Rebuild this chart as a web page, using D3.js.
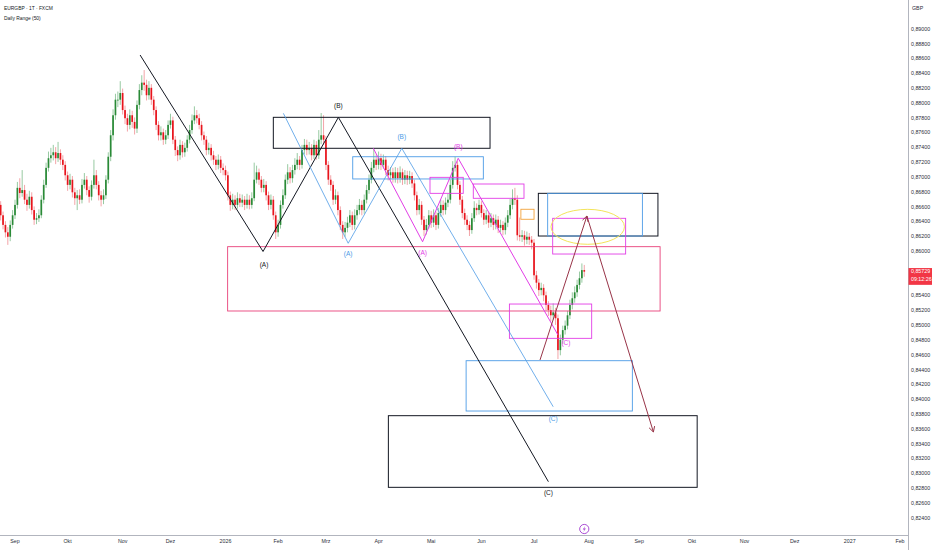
<!DOCTYPE html>
<html><head><meta charset="utf-8">
<script src="https://cdn.jsdelivr.net/npm/d3@7"></script>
<style>body{margin:0;background:#fff}svg{display:block}</style>
</head><body><svg id="c" width="932" height="550"></svg>
<script>
// ---------- DATA ----------
const firstBarDate = "2025-08-21";
const opens = [.8655,.8663,.8649,.8636,.8626,.8620,.8636,.8649,.8663,.8686,.8679,.8683,.8670,.8663,.8674,.8656,.8643,.8645,.8649,.8670,
.8690,.8713,.8726,.8730,.8734,.8726,.8733,.8724,.8717,.8703,.8690,.8697,.8680,.8672,.8676,.8670,.8690,.8697,.8683,.8674,
.8690,.8703,.8690,.8676,.8670,.8676,.8697,.8728,.8757,.8784,.8805,.8805,.8814,.8791,.8780,.8771,.8784,.8775,.8766,.8798,
.8818,.8828,.8825,.8811,.8821,.8805,.8791,.8771,.8757,.8761,.8751,.8757,.8771,.8777,.8751,.8737,.8730,.8744,.8734,.8740,
.8751,.8764,.8777,.8784,.8780,.8771,.8757,.8751,.8737,.8740,.8730,.8724,.8717,.8724,.8713,.8710,.8703,.8676,.8663,.8670,
.8663,.8672,.8666,.8670,.8663,.8670,.8663,.8672,.8697,.8707,.8697,.8686,.8690,.8676,.8663,.8670,.8649,.8626,.8636,.8663,
.8676,.8697,.8707,.8699,.8710,.8717,.8724,.8717,.8737,.8744,.8737,.8740,.8730,.8744,.8730,.8751,.8757,.8751,.8717,.8697,
.8690,.8670,.8676,.8656,.8636,.8626,.8632,.8639,.8649,.8636,.8649,.8656,.8663,.8656,.8670,.8683,.8697,.8713,.8724,.8717,
.8726,.8717,.8724,.8710,.8703,.8707,.8699,.8707,.8699,.8707,.8697,.8703,.8697,.8702,.8692,.8676,.8656,.8663,.8643,.8629,
.8636,.8649,.8639,.8649,.8636,.8652,.8663,.8656,.8666,.8670,.8690,.8713,.8717,.8690,.8670,.8652,.8643,.8636,.8629,.8645,
.8659,.8656,.8663,.8652,.8643,.8649,.8639,.8645,.8636,.8643,.8632,.8636,.8629,.8639,.8649,.8663,.8672,.8670,.8622,.8620,
.8622,.8616,.8620,.8616,.8612,.8568,.8558,.8548,.8551,.8541,.8528,.8521,.8514,.8518,.8510,.8467,.8481,.8494,.8500,.8514,
.8528,.8537,.8545,.8555,.8564,.8575];
const highs = [.8671,.8668,.8654,.8641,.8633,.8642,.8656,.8670,.8694,.8699,.8710,.8690,.8678,.8682,.8680,.8661,.8652,.8657,.8676,.8697,
.8720,.8735,.8740,.8744,.8741,.8748,.8738,.8730,.8722,.8708,.8705,.8702,.8686,.8683,.8684,.8698,.8706,.8702,.8688,.8696,
.8724,.8710,.8695,.8682,.8684,.8703,.8734,.8764,.8792,.8813,.8816,.8830,.8820,.8797,.8786,.8792,.8790,.8781,.8804,.8826,
.8838,.8845,.8832,.8830,.8826,.8810,.8796,.8776,.8769,.8766,.8764,.8777,.8786,.8782,.8756,.8742,.8751,.8749,.8747,.8757,
.8771,.8785,.8796,.8791,.8786,.8776,.8762,.8756,.8747,.8745,.8736,.8729,.8731,.8729,.8719,.8716,.8708,.8681,.8678,.8676,
.8680,.8678,.8677,.8675,.8678,.8676,.8680,.8720,.8716,.8712,.8702,.8698,.8695,.8681,.8677,.8675,.8654,.8643,.8669,.8684,
.8704,.8718,.8714,.8717,.8726,.8733,.8729,.8744,.8752,.8751,.8748,.8745,.8751,.8749,.8764,.8787,.8784,.8756,.8722,.8703,
.8695,.8684,.8681,.8661,.8641,.8640,.8647,.8656,.8654,.8657,.8663,.8671,.8669,.8677,.8690,.8704,.8721,.8738,.8731,.8735,
.8732,.8731,.8729,.8716,.8714,.8713,.8714,.8713,.8715,.8712,.8710,.8709,.8709,.8707,.8697,.8681,.8671,.8668,.8648,.8644,
.8656,.8655,.8657,.8654,.8659,.8670,.8669,.8673,.8678,.8697,.8722,.8728,.8722,.8695,.8675,.8658,.8649,.8641,.8652,.8668,
.8665,.8670,.8668,.8657,.8656,.8654,.8652,.8650,.8650,.8648,.8643,.8641,.8646,.8656,.8671,.8684,.8686,.8676,.8646,.8629,
.8628,.8627,.8625,.8621,.8617,.8574,.8563,.8558,.8556,.8546,.8533,.8527,.8530,.8524,.8515,.8488,.8500,.8507,.8520,.8535,
.8545,.8553,.8562,.8573,.8584,.8582];
const lows = [.8648,.8642,.8630,.8619,.8609,.8614,.8631,.8644,.8658,.8672,.8674,.8664,.8655,.8658,.8650,.8636,.8637,.8640,.8645,.8665,
.8686,.8708,.8720,.8723,.8718,.8721,.8717,.8710,.8696,.8682,.8684,.8673,.8663,.8656,.8664,.8665,.8685,.8676,.8666,.8669,
.8685,.8684,.8669,.8661,.8664,.8671,.8692,.8722,.8750,.8778,.8795,.8798,.8785,.8772,.8762,.8765,.8767,.8758,.8760,.8792,
.8811,.8817,.8804,.8805,.8798,.8784,.8764,.8750,.8750,.8744,.8745,.8752,.8766,.8745,.8729,.8722,.8724,.8727,.8728,.8735,
.8746,.8759,.8772,.8773,.8765,.8750,.8744,.8730,.8731,.8723,.8717,.8710,.8711,.8706,.8703,.8696,.8669,.8655,.8657,.8656,
.8658,.8660,.8660,.8656,.8658,.8657,.8658,.8668,.8692,.8690,.8680,.8680,.8669,.8656,.8657,.8643,.8617,.8620,.8631,.8658,
.8671,.8691,.8692,.8693,.8704,.8711,.8710,.8712,.8731,.8730,.8731,.8723,.8725,.8724,.8725,.8745,.8744,.8710,.8690,.8682,
.8663,.8664,.8649,.8629,.8617,.8620,.8626,.8633,.8629,.8630,.8643,.8650,.8649,.8651,.8665,.8678,.8692,.8707,.8710,.8711,
.8710,.8712,.8703,.8696,.8697,.8693,.8693,.8692,.8693,.8690,.8691,.8690,.8691,.8686,.8669,.8649,.8650,.8636,.8621,.8623,
.8631,.8632,.8633,.8629,.8631,.8647,.8649,.8650,.8660,.8665,.8685,.8708,.8684,.8663,.8645,.8636,.8629,.8621,.8624,.8640,
.8649,.8650,.8646,.8636,.8637,.8632,.8633,.8629,.8630,.8625,.8626,.8622,.8623,.8633,.8644,.8657,.8663,.8615,.8614,.8613,
.8608,.8610,.8609,.8603,.8562,.8550,.8540,.8541,.8533,.8520,.8513,.8506,.8508,.8501,.8455,.8460,.8475,.8488,.8495,.8509,
.8522,.8531,.8539,.8549,.8558,.8566];
const closes = [.8663,.8649,.8636,.8626,.8620,.8636,.8649,.8663,.8686,.8679,.8683,.8670,.8663,.8674,.8656,.8643,.8645,.8649,.8670,.8690,
.8713,.8726,.8730,.8734,.8726,.8733,.8724,.8717,.8703,.8690,.8697,.8680,.8672,.8676,.8670,.8690,.8697,.8683,.8674,.8690,
.8703,.8690,.8676,.8670,.8676,.8697,.8728,.8757,.8784,.8805,.8805,.8814,.8791,.8780,.8771,.8784,.8775,.8766,.8798,.8818,
.8828,.8825,.8811,.8821,.8805,.8791,.8771,.8757,.8761,.8751,.8757,.8771,.8777,.8751,.8737,.8730,.8744,.8734,.8740,.8751,
.8764,.8777,.8784,.8780,.8771,.8757,.8751,.8737,.8740,.8730,.8724,.8717,.8724,.8713,.8710,.8703,.8676,.8663,.8670,.8663,
.8672,.8666,.8670,.8663,.8670,.8663,.8672,.8697,.8707,.8697,.8686,.8690,.8676,.8663,.8670,.8649,.8626,.8636,.8663,.8676,
.8697,.8707,.8699,.8710,.8717,.8724,.8717,.8737,.8744,.8737,.8740,.8730,.8744,.8730,.8751,.8757,.8751,.8717,.8697,.8690,
.8670,.8676,.8656,.8636,.8626,.8632,.8639,.8649,.8636,.8649,.8656,.8663,.8656,.8670,.8683,.8697,.8713,.8724,.8717,.8726,
.8717,.8724,.8710,.8703,.8707,.8699,.8707,.8699,.8707,.8697,.8703,.8697,.8702,.8692,.8676,.8656,.8663,.8643,.8629,.8636,
.8649,.8639,.8649,.8636,.8652,.8663,.8656,.8666,.8670,.8690,.8713,.8717,.8690,.8670,.8652,.8643,.8636,.8629,.8645,.8659,
.8656,.8663,.8652,.8643,.8649,.8639,.8645,.8636,.8643,.8632,.8636,.8629,.8639,.8649,.8663,.8672,.8670,.8622,.8620,.8622,
.8616,.8620,.8616,.8612,.8568,.8558,.8548,.8551,.8541,.8528,.8521,.8514,.8518,.8510,.8467,.8481,.8494,.8500,.8514,.8528,
.8537,.8545,.8555,.8564,.8575,.85729];
const lastPrice = 0.85729;
const countdown = "09:12:26";
const priceTicks = [0.824,0.826,0.828,0.830,0.832,0.834,0.836,0.838,0.840,0.842,0.844,0.846,0.848,0.850,0.852,0.854,0.856,0.858,
0.860,0.862,0.864,0.866,0.868,0.870,0.872,0.874,0.876,0.878,0.880,0.882,0.884,0.886,0.888,0.890];
const tickDates = ["2025-09-01","2025-10-01","2025-11-03","2025-12-01","2026-01-01","2026-02-02","2026-03-02","2026-04-01","2026-05-01",
"2026-06-01","2026-07-01","2026-08-03","2026-09-01","2026-10-01","2026-11-02","2026-12-01","2027-01-01","2027-02-01"];
const tickLabels = ["Sep","Okt","Nov","Dez","2026","Feb","Mrz","Apr","Mai","Jun","Jul","Aug","Sep","Okt","Nov","Dez","2027","Feb"];
// annotations: [bar index from 2025-09-01, price]
const waveBlack = [[52.3,0.88653],[103.7,0.86001],[135.2,0.87812],[223.0,0.82894]];
const waveBlue1 = [[112.2,0.87866],[139.3,0.86112],[161.7,0.87394]];
const waveBlue2 = [[161.7,0.87394],[225.0,0.83906]];
const waveMagenta = [[149.8,0.87394],[170.4,0.86133],[185.3,0.87259],[227.0,0.84874]];
const waveLabels = ["(A)","(B)","(C)"];
// rectangles: [i0, i1, pTop, pBottom, kind]
const zones = [
 [108.0,198.6,0.87812,0.87394,"black"],
 [141.2,195.8,0.87280,0.86980,"blue"],
 [173.5,187.4,0.87002,0.86786,"magenta"],
 [191.6,212.8,0.86912,0.86719,"magenta"],
 [88.9,269.7,0.86066,0.85198,"crimson"],
 [218.8,268.8,0.86786,0.86210,"black"],
 [222.7,262.3,0.86786,0.86210,"blue"],
 [224.8,255.3,0.86449,0.85967,"magenta"],
 [206.7,241.1,0.85292,0.84829,"magenta"],
 [211.5,217.0,0.86571,0.86436,"orange"],
 [188.6,258.1,0.84527,0.83848,"blue"],
 [156.1,285.2,0.83785,0.82818,"black"]
];
const ellipseZone = [224.1,254.8,0.86570,0.86098];
const arrowPath = [[219.5,0.84537],[239.1,0.86480],[266.9,0.83565]];
const eventBar = 238;

// ---------- SETUP ----------
const W=932,H=550, plotR=908, plotB=535;
const svg=d3.select("#c");
const FONT="'Liberation Sans', Arial, sans-serif";
const colors={black:"#131722",blue:"#4c9be6",magenta:"#e23de6",crimson:"#e8417a",orange:"#f2a23a",maroon:"#983448",yellow:"#f3e45a",up:"#2a8a37",down:"#e8141c",upW:"#8cc497",downW:"#f29a9e"};

const refDate=Date.UTC(2025,8,1);
function wdIndex(s){const d=Date.parse(s+"T00:00:00Z");const days=Math.round((d-refDate)/864e5);const w=Math.floor(days/7),r=days-w*7;return w*5+Math.min(r,5);}
const x=d3.scaleLinear().domain([0,370]).range([15,900]);
const y=d3.scaleLinear().domain([0.824,0.890]).range([518.3,29.3]);

svg.append("rect").attr("width",W).attr("height",H).attr("fill","#fff");
svg.append("defs").append("clipPath").attr("id","clip").append("rect").attr("x",0).attr("y",0).attr("width",plotR).attr("height",plotB);
const plot=svg.append("g").attr("clip-path","url(#clip)");

// candles
const i0=wdIndex(firstBarDate);
const data=closes.map((c,k)=>({i:i0+k,o:opens[k],h:highs[k],l:lows[k],c}));
const cg=plot.append("g");
cg.selectAll("line").data(data).join("line")
 .attr("x1",d=>x(d.i)).attr("x2",d=>x(d.i)).attr("y1",d=>y(d.h)).attr("y2",d=>y(d.l))
 .attr("stroke",d=>d.c>=d.o?colors.upW:colors.downW).attr("stroke-width",0.9);
cg.selectAll("rect").data(data).join("rect")
 .attr("x",d=>x(d.i)-0.85).attr("width",1.7)
 .attr("y",d=>y(Math.max(d.o,d.c))).attr("height",d=>Math.max(0.8,Math.abs(y(d.o)-y(d.c))))
 .attr("fill",d=>d.c>=d.o?colors.up:colors.down);

// zones
const ag=plot.append("g");
ag.selectAll("rect.z").data(zones).join("rect").attr("class","z")
 .attr("x",d=>x(d[0])).attr("y",d=>y(d[2])).attr("width",d=>x(d[1])-x(d[0])).attr("height",d=>y(d[3])-y(d[2]))
 .attr("fill","none").attr("stroke",d=>colors[d[4]]).attr("stroke-width",d=>d[4]==="black"?1:0.9);
ag.append("ellipse")
 .attr("cx",(x(ellipseZone[0])+x(ellipseZone[1]))/2).attr("cy",(y(ellipseZone[2])+y(ellipseZone[3]))/2)
 .attr("rx",(x(ellipseZone[1])-x(ellipseZone[0]))/2).attr("ry",(y(ellipseZone[3])-y(ellipseZone[2]))/2)
 .attr("fill","none").attr("stroke",colors.yellow).attr("stroke-width",1);

const line=d3.line().x(d=>x(d[0])).y(d=>y(d[1]));
function wave(pts,color,w){ag.append("path").attr("d",line(pts)).attr("fill","none").attr("stroke",color).attr("stroke-width",w);}
wave(waveBlack,colors.black,1);
wave(waveBlue1,colors.blue,0.8);
wave(waveBlue2,colors.blue,0.8);
wave(waveMagenta,colors.magenta,1);

function label(pt,txt,color,dx,dy){ag.append("text").attr("x",x(pt[0])+dx).attr("y",y(pt[1])+dy).attr("text-anchor","middle")
 .attr("dominant-baseline","middle").attr("font-family",FONT).attr("font-size",6.5).attr("fill",color).text(txt);}
label(waveBlack[1],waveLabels[0],colors.black,1,13.5);
label(waveBlack[2],waveLabels[1],colors.black,0,-11.5);
label(waveBlack[3],waveLabels[2],colors.black,0,11.5);
label(waveBlue1[1],waveLabels[0],colors.blue,0,11);
label(waveBlue1[2],waveLabels[1],colors.blue,0,-11.5);
label(waveBlue2[1],waveLabels[2],colors.blue,0,12.5);
label(waveMagenta[1],waveLabels[0],colors.magenta,0,11.5);
label(waveMagenta[2],waveLabels[1],colors.magenta,0,-11.5);
label(waveMagenta[3],waveLabels[2],colors.magenta,8,8);

// arrows
function arrow(a,b){const x1=x(a[0]),y1=y(a[1]),x2=x(b[0]),y2=y(b[1]);
 ag.append("line").attr("x1",x1).attr("y1",y1).attr("x2",x2).attr("y2",y2).attr("stroke",colors.maroon).attr("stroke-width",1);
 const ang=Math.atan2(y2-y1,x2-x1),L=6;
 [0.5,-0.5].forEach(s=>ag.append("line").attr("x1",x2).attr("y1",y2)
  .attr("x2",x2-L*Math.cos(ang+s)).attr("y2",y2-L*Math.sin(ang+s)).attr("stroke",colors.maroon).attr("stroke-width",1));}
arrow(arrowPath[0],arrowPath[1]);
arrow(arrowPath[1],arrowPath[2]);

// axes lines
svg.append("line").attr("x1",0).attr("x2",plotR).attr("y1",plotB+0.5).attr("y2",plotB+0.5).attr("stroke","#b2b5be").attr("stroke-width",1);
svg.append("line").attr("x1",plotR+0.5).attr("x2",plotR+0.5).attr("y1",0).attr("y2",H).attr("stroke","#b2b5be").attr("stroke-width",1);

// price axis labels (hide those under the last-price tag)
const fmt=v=>d3.format(".5f")(v).replace(".",",");
const py=y(lastPrice);
const tagTop=py-3.6, tagBot=py+13.2;
svg.append("g").selectAll("text").data(priceTicks.filter(t=>y(t)<tagTop-2||y(t)>tagBot+2)).join("text")
 .attr("x",911).attr("y",d=>y(d)).attr("dominant-baseline","middle").attr("font-family",FONT).attr("font-size",5.3).attr("fill","#2a2e39").text(fmt);
svg.append("text").attr("x",912).attr("y",9).attr("dominant-baseline","middle").attr("font-family",FONT).attr("font-size",5.3).attr("fill","#2a2e39").text("GBP");

// last price tag
svg.append("rect").attr("x",plotR+0.5).attr("y",tagTop).attr("width",W-plotR).attr("height",tagBot-tagTop).attr("fill","#f23645");
svg.append("text").attr("x",911).attr("y",py+0.3).attr("dominant-baseline","middle").attr("font-family",FONT).attr("font-size",5.3).attr("fill","#fff").text(fmt(lastPrice));
svg.append("text").attr("x",911).attr("y",py+7.6).attr("dominant-baseline","middle").attr("font-family",FONT).attr("font-size",5.3).attr("fill","#fff").text(countdown);

// time axis labels
svg.append("g").selectAll("text").data(tickDates).join("text")
 .attr("x",d=>x(wdIndex(d))).attr("y",542).attr("text-anchor","middle").attr("dominant-baseline","middle")
 .attr("font-family",FONT).attr("font-size",5.3).attr("fill","#2a2e39").text((d,k)=>tickLabels[k]);

// event marker
const ex=x(eventBar),ey=529;
svg.append("circle").attr("cx",ex).attr("cy",ey).attr("r",4.6).attr("fill","#fff").attr("stroke","#a23bd0").attr("stroke-width",0.9);
svg.append("path").attr("d",`M${ex+0.9},${ey-3} L${ex-1.5},${ey+0.4} L${ex+0.2},${ey+0.4} L${ex-0.9},${ey+3} L${ex+1.6},${ey-0.6} L${ex-0.1},${ey-0.6} Z`).attr("fill","#a23bd0");

// title
svg.append("text").attr("x",4).attr("y",8.5).attr("dominant-baseline","middle").attr("font-family",FONT).attr("font-size",4.9).attr("fill","#131722").text("EURGBP · 1T · FXCM");
svg.append("text").attr("x",4).attr("y",18.5).attr("dominant-baseline","middle").attr("font-family",FONT).attr("font-size",4.9).attr("fill","#131722").text("Daily Range (50)");
</script></body></html>
